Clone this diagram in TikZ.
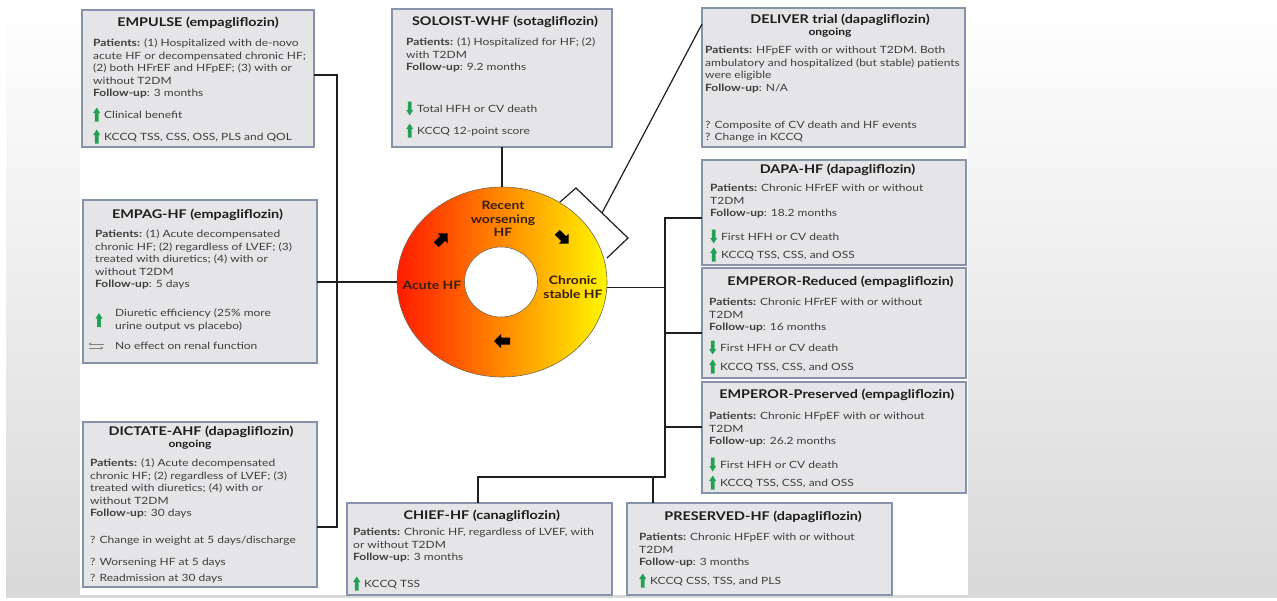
\documentclass[tikz,border=0pt]{standalone}
\usepackage{fontspec}
\setmainfont[FakeStretch=1.2]{Lato}
\usetikzlibrary{shapes.geometric,arrows.meta,calc}
\definecolor{boxfill}{RGB}{229,229,231}
\definecolor{boxline}{RGB}{135,147,172}
\definecolor{txt}{RGB}{62,62,62}
\definecolor{ttlc}{RGB}{28,28,28}
\definecolor{icongreen}{RGB}{34,160,84}
\definecolor{ringtxt}{RGB}{55,30,12}
\definecolor{conn}{RGB}{30,30,30}
\definecolor{bggray}{RGB}{217,217,217}
\definecolor{ringred}{RGB}{255,28,0}
\definecolor{ringorange}{RGB}{255,155,0}
\definecolor{ringyellow}{RGB}{255,246,0}
\definecolor{ringedge}{RGB}{120,100,80}
\newcommand{\upg}{\tikz[x=1pt,y=1pt,baseline=0pt]\fill[icongreen] (1.7,-3) -- (1.7,5.5) -- (0,5.5) -- (3.5,11) -- (7,5.5) -- (5.3,5.5) -- (5.3,-3) -- cycle;}
\newcommand{\dng}{\tikz[x=1pt,y=1pt,baseline=0pt]\fill[icongreen] (1.7,11) -- (1.7,2.5) -- (0,2.5) -- (3.5,-3) -- (7,2.5) -- (5.3,2.5) -- (5.3,11) -- cycle;}
\newcommand{\lrg}{\tikz[x=1pt,y=1pt,baseline=0pt]{\draw[gray,line width=0.6pt,-{Stealth[length=3pt,width=3pt]}] (15,4) -- (0,4); \draw[gray,line width=0.6pt,-{Stealth[length=3pt,width=3pt]}] (0,0) -- (15,0);}}
\newcommand{\rowl}[1]{\hbox{#1}}
\newcommand{\stack}[1]{\vtop{#1}}
\tikzset{
 box/.style={draw=boxline, line width=1.2pt, fill=boxfill, inner sep=0pt, outer sep=0pt},
 ttl/.style={font=\fontsize{12}{14}\selectfont\bfseries, text=ttlc, anchor=center, inner sep=0pt},
 sub/.style={font=\fontsize{10}{12}\selectfont\bfseries, text=ttlc, anchor=center, inner sep=0pt},
 bodytxt/.style={font=\fontsize{10}{12.6}\selectfont, text=txt, anchor=base west, inner sep=0pt},
 ringlabel/.style={font=\fontsize{11.6}{13.5}\selectfont\bfseries, text=ringtxt, align=center, inner sep=0pt},
 conline/.style={draw=conn, line width=1.2pt},
}
\begin{document}
\begin{tikzpicture}[x=1pt,y=-1pt]
\useasboundingbox (0,0) rectangle (1277,600);
% slide background
\fill[white] (0,0) rectangle (1277,600);
\shade[top color=white, bottom color=bggray] (6,0) rectangle (1277,597);
\fill[white] (80,0) rectangle (968,595);

% boxes
\node[box, minimum width=232, minimum height=137] (empulse) at (198,78.5) {};
\node[box, minimum width=234, minimum height=163] (empag) at (200,281.5) {};
\node[box, minimum width=234, minimum height=165] (dictate) at (200,504.5) {};
\node[box, minimum width=220, minimum height=138] (soloist) at (502,78) {};
\node[box, minimum width=263, minimum height=139] (deliver) at (833.5,77.5) {};
\node[box, minimum width=264, minimum height=105] (dapa) at (834,212.5) {};
\node[box, minimum width=264, minimum height=110] (empr) at (834,323) {};
\node[box, minimum width=264, minimum height=111] (empp) at (834,437.5) {};
\node[box, minimum width=265, minimum height=92] (chief) at (479.5,549) {};
\node[box, minimum width=265, minimum height=92] (preserved) at (759.5,549) {};

% ring
\node[ellipse, minimum width=210, minimum height=190, left color=ringred, middle color=ringorange, right color=ringyellow, draw=ringedge, line width=0.6pt] (ring) at (502,282) {};
\node[ellipse, minimum width=73, minimum height=70, fill=white, draw=ringedge, line width=0.6pt] (hole) at (501,282) {};
\node[ringlabel] (rl1) at (503,219) {Recent\\worsening\\HF};
\node[ringlabel] (rl2) at (432,285) {Acute HF};
\node[ringlabel] (rl3) at (573,287) {Chronic\\stable HF};
\fill[black, shift={(442,239)}, rotate=45] (-8,-3.5) -- (1,-3.5) -- (1,-7) -- (8,0) -- (1,7) -- (1,3.5) -- (-8,3.5) -- cycle;
\fill[black, shift={(563,238)}, rotate=-45] (-8,-3.5) -- (1,-3.5) -- (1,-7) -- (8,0) -- (1,7) -- (1,3.5) -- (-8,3.5) -- cycle;
\fill[black, shift={(502,341)}, rotate=180] (-8,-3.5) -- (1,-3.5) -- (1,-7) -- (8,0) -- (1,7) -- (1,3.5) -- (-8,3.5) -- cycle;

% connectors
\coordinate (jl1) at (337,75);
\coordinate (jl2) at (337,527);
\draw[conline] (empulse.east |- jl1) -- (jl1) -- (jl2) -- (dictate.east |- jl2);
\draw[conline] (empag.east |- ring.west) -- (ring.west);
\draw[conline] (soloist.south -| ring.north) -- (ring.north);
\coordinate (jr0) at (665,218);
\coordinate (jr2) at (665,333);
\coordinate (jr3) at (665,427);
\coordinate (jr4) at (665,477);
\coordinate (jr5) at (478,477);
\coordinate (jr6) at (653,477);
\draw[conline] (dapa.west |- jr0) -- (jr0) -- (jr4) -- (jr5) -- (jr5 |- chief.north);
\draw[conline] (ring.-3) -- (ring.-3 -| jr0);
\draw[conline] (jr2) -- (empr.west |- jr2);
\draw[conline] (jr3) -- (empp.west |- jr3);
\draw[conline] (jr6) -- (jr6 |- preserved.north);
\coordinate (bk1) at (560,202);
\coordinate (bk2) at (576,188);
\coordinate (bk3) at (628,238);
\coordinate (bk4) at (607,258);
\coordinate (bkm) at (602,213);
\coordinate (dlv) at (702,24);
\draw[conline] (bk1) -- (bk2) -- (bk3) -- (bk4);
\draw[conline] (bkm) -- (deliver.west |- dlv);

% EMPULSE
\node[ttl] (t1) at (198,23) {EMPULSE (empagliflozin)};
\node[bodytxt] (b1) at (93,46.5) {\stack{\rowl{\textbf{Patients:} (1) Hospitalized with de-novo}\rowl{acute HF or decompensated chronic HF;}\rowl{(2) both HFrEF and HFpEF; (3) with or}\rowl{without T2DM}\rowl{\textbf{Follow-up}: 3 months}}};
\node[bodytxt] (o1a) at (93,118.5) {\upg\hspace{4pt}Clinical benefit};
\node[bodytxt] (o1b) at (93,140.5) {\upg\hspace{4pt}KCCQ TSS, CSS, OSS, PLS and QOL};

% SOLOIST
\node[ttl] (t2) at (505,22) {SOLOIST-WHF (sotagliflozin)};
\node[bodytxt] (b2) at (406,45.5) {\stack{\rowl{\textbf{Patients:} (1) Hospitalized for HF; (2)}\rowl{with T2DM}\rowl{\textbf{Follow-up}: 9.2 months}}};
\node[bodytxt] (o2a) at (406,112.5) {\dng\hspace{4pt}Total HFH or CV death};
\node[bodytxt] (o2b) at (406,134.5) {\upg\hspace{4pt}KCCQ 12-point score};

% DELIVER
\node[ttl] (t3) at (840,20) {DELIVER trial (dapagliflozin)};
\node[sub] (s3) at (830,33) {ongoing};
\node[bodytxt] (b3) at (705,53.5) {\stack{\rowl{\textbf{Patients:} HFpEF with or without T2DM. Both}\rowl{ambulatory and hospitalized (but stable) patients}\rowl{were eligible}\rowl{\textbf{Follow-up}: N/A}}};
\node[bodytxt] (o3a) at (705,128.5) {? Composite of CV death and HF events};
\node[bodytxt] (o3b) at (705,140.5) {? Change in KCCQ};

% EMPAG-HF
\node[ttl] (t4) at (197.5,215) {EMPAG-HF (empagliflozin)};
\node[bodytxt] (b4) at (95,237.5) {\stack{\rowl{\textbf{Patients:} (1) Acute decompensated}\rowl{chronic HF; (2) regardless of LVEF; (3)}\rowl{treated with diuretics; (4) with or}\rowl{without T2DM}\rowl{\textbf{Follow-up}: 5 days}}};
\node[inner sep=0pt] (i4a) at (99,320) {\upg};
\node[bodytxt] (o4a) at (115,316.5) {\stack{\rowl{Diuretic efficiency (25\% more}\rowl{urine output vs placebo)}}};
\node[inner sep=0pt] (i4b) at (96,346) {\lrg};
\node[bodytxt] (o4b) at (115,349.5) {No effect on renal function};

% DICTATE-AHF
\node[ttl] (t5) at (201,432) {DICTATE-AHF (dapagliflozin)};
\node[sub] (s5) at (190,445) {ongoing};
\node[bodytxt] (b5) at (90,466.5) {\stack{\rowl{\textbf{Patients:} (1) Acute decompensated}\rowl{chronic HF; (2) regardless of LVEF; (3)}\rowl{treated with diuretics; (4) with or}\rowl{without T2DM}\rowl{\textbf{Follow-up}: 30 days}}};
\node[bodytxt] (o5a) at (90,543.5) {? Change in weight at 5 days/discharge};
\node[bodytxt] (o5b) at (90,565) {? Worsening HF at 5 days};
\node[bodytxt] (o5c) at (90,581.5) {? Readmission at 30 days};

% DAPA-HF
\node[ttl] (t6) at (837.5,170) {DAPA-HF (dapagliflozin)};
\node[bodytxt] (b6) at (710,191.5) {\stack{\rowl{\textbf{Patients:} Chronic HFrEF with or without}\rowl{T2DM}\rowl{\textbf{Follow-up}: 18.2 months}}};
\node[bodytxt] (o6a) at (710,240.5) {\dng\hspace{4pt}First HFH or CV death};
\node[bodytxt] (o6b) at (710,258.5) {\upg\hspace{4pt}KCCQ TSS, CSS, and OSS};

% EMPEROR-Reduced
\node[ttl] (t7) at (840.5,282) {EMPEROR-Reduced (empagliflozin)};
\node[bodytxt] (b7) at (709,305.5) {\stack{\rowl{\textbf{Patients:} Chronic HFrEF with or without}\rowl{T2DM}\rowl{\textbf{Follow-up}: 16 months}}};
\node[bodytxt] (o7a) at (709,351.5) {\dng\hspace{4pt}First HFH or CV death};
\node[bodytxt] (o7b) at (709,370.5) {\upg\hspace{4pt}KCCQ TSS, CSS, and OSS};

% EMPEROR-Preserved
\node[ttl] (t8) at (836.7,395) {EMPEROR-Preserved (empagliflozin)};
\node[bodytxt] (b8) at (709,419.5) {\stack{\rowl{\textbf{Patients:} Chronic HFpEF with or without}\rowl{T2DM}\rowl{\textbf{Follow-up}: 26.2 months}}};
\node[bodytxt] (o8a) at (709,468.5) {\dng\hspace{4pt}First HFH or CV death};
\node[bodytxt] (o8b) at (709,486.5) {\upg\hspace{4pt}KCCQ TSS, CSS, and OSS};

% CHIEF-HF
\node[ttl] (t9) at (481.7,516) {CHIEF-HF (canagliflozin)};
\node[bodytxt] (b9) at (353,535.5) {\stack{\rowl{\textbf{Patients:} Chronic HF, regardless of LVEF, with}\rowl{or without T2DM}\rowl{\textbf{Follow-up}: 3 months}}};
\node[bodytxt] (o9a) at (353,587.5) {\upg\hspace{4pt}KCCQ TSS};

% PRESERVED-HF
\node[ttl] (t10) at (763,517) {PRESERVED-HF (dapagliflozin)};
\node[bodytxt] (b10) at (639,540.5) {\stack{\rowl{\textbf{Patients:} Chronic HFpEF with or without}\rowl{T2DM}\rowl{\textbf{Follow-up}: 3 months}}};
\node[bodytxt] (o10a) at (639,584.5) {\upg\hspace{4pt}KCCQ CSS, TSS, and PLS};
\end{tikzpicture}
\end{document}
